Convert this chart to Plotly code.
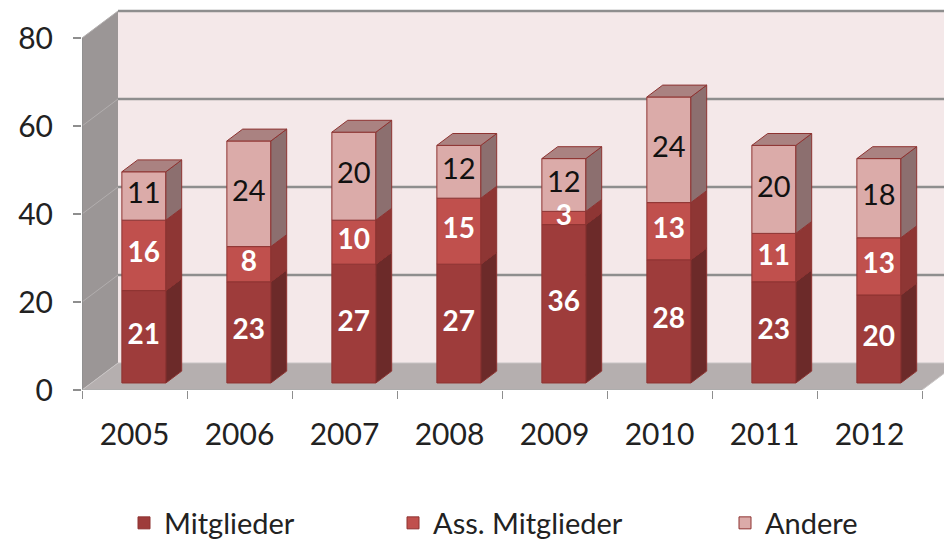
import plotly.graph_objects as go

# ---------------- data ----------------
years = ["2005", "2006", "2007", "2008", "2009", "2010", "2011", "2012"]
mitglieder = [21, 23, 27, 27, 36, 28, 23, 20]
ass_mitglieder = [16, 8, 10, 15, 3, 13, 11, 13]
andere = [11, 24, 20, 12, 12, 24, 20, 18]
y_ticks = [0, 20, 40, 60, 80]
series_names = ["Mitglieder", "Ass. Mitglieder", "Andere"]

# ---------------- geometry / style ----------------
PAGE_OFF = 8                    # default body margin of the html page
W, H = 952 - PAGE_OFF, 542 - PAGE_OFF
PLOT_L = 82 - PAGE_OFF          # px, left edge of front plane
PLOT_BOTTOM = 390 - PAGE_OFF    # px, y=0 of front plane
PX_PER_UNIT = 4.4               # px per value unit
SLOT_PX = 105                   # px per category
DEPTH_PX_X, DEPTH_PX_Y = 36, 27

x_max = (W - PLOT_L) / SLOT_PX
y_max = PLOT_BOTTOM / PX_PER_UNIT
DX = DEPTH_PX_X / SLOT_PX
DY = DEPTH_PX_Y / PX_PER_UNIT
F0, FD = 0.26, 0.44            # bar depth start / depth fraction
BAR_W = 44 / SLOT_PX
SDX, SDY = FD * DX, FD * DY
Y0 = F0 * DY
n = len(years)
top_val = max(y_ticks)

FONT = "Lato, 'Open Sans', sans-serif"
front_cols = ["#9E3C3B", "#C0504D", "#DBABA9"]
side_cols = ["#6C2A29", "#8E3634", "#8C6F6F"]
top_col = "#AA8281"
edge_col = "#8E3331"
grid_col = "#8E8E8E"
legend_px = [124 - PAGE_OFF, 393 - PAGE_OFF, 725 - PAGE_OFF]  # legend left edges
legend_cy = 523 - PAGE_OFF
legend_names = ["legend", "legend2", "legend3"]

centers = [i + 0.5 + F0 * DX for i in range(n)]
series = [mitglieder, ass_mitglieder, andere]

fig = go.Figure()

# ---------- walls / floor ----------
shapes = []
shapes.append(dict(type="rect", xref="x", yref="y", x0=DX, x1=x_max + 1,
                   y0=DY, y1=top_val + DY, fillcolor="#F4E8E9",
                   line=dict(width=0), layer="below"))
shapes.append(dict(type="path", xref="x", yref="y",
                   path=f"M0,0 L{DX},{DY} L{DX},{top_val + DY} L0,{top_val} Z",
                   fillcolor="#9B9696", line=dict(width=0), layer="below"))
shapes.append(dict(type="path", xref="x", yref="y",
                   path=f"M0,0 L{n},0 L{n + DX},{DY} L{DX},{DY} Z",
                   fillcolor="#B5AFAF", line=dict(color="#C8C4C4", width=1),
                   layer="below"))
for v in y_ticks[1:]:
    shapes.append(dict(type="line", xref="x", yref="y", x0=DX, x1=x_max + 1,
                       y0=v + DY, y1=v + DY, line=dict(color=grid_col, width=2.5),
                       layer="below"))
    shapes.append(dict(type="line", xref="x", yref="y", x0=0, x1=DX,
                       y0=v, y1=v + DY, line=dict(color="#B2AEAE", width=1),
                       layer="below"))
# front axis lines
shapes.append(dict(type="line", xref="x", yref="y", x0=0, x1=0, y0=0, y1=top_val,
                   line=dict(color=grid_col, width=1.5)))
shapes.append(dict(type="line", xref="x", yref="y", x0=0, x1=n, y0=0, y1=0,
                   line=dict(color="#A8A8A8", width=1.5)))

# ---------- front faces (bars) ----------
cum = [0] * n
bases_all = []
for s, vals in enumerate(series):
    bases = [Y0 + c for c in cum]
    bases_all.append(bases)
    fig.add_trace(go.Bar(
        x=centers, y=vals, base=bases, width=BAR_W, name=series_names[s],
        legend=legend_names[s],
        marker=dict(color=front_cols[s], line=dict(color=edge_col, width=1)),
        hoverinfo="skip"))
    cum = [c + v for c, v in zip(cum, vals)]

# ---------- side and top faces ----------
for s, vals in enumerate(series):
    xs, ys = [], []
    for i in range(n):
        b = bases_all[s][i]
        t = b + vals[i]
        xr = centers[i] + BAR_W / 2
        xs += [xr, xr + SDX, xr + SDX, xr, xr, None]
        ys += [b, b + SDY, t + SDY, t, b, None]
    fig.add_trace(go.Scatter(x=xs, y=ys, mode="lines", fill="toself",
                             fillcolor=side_cols[s],
                             line=dict(color=edge_col, width=1),
                             showlegend=False, hoverinfo="skip"))
xs, ys = [], []
for i in range(n):
    t = Y0 + cum[i]
    xl = centers[i] - BAR_W / 2
    xr = centers[i] + BAR_W / 2
    xs += [xl, xr, xr + SDX, xl + SDX, xl, None]
    ys += [t, t, t + SDY, t + SDY, t, None]
fig.add_trace(go.Scatter(x=xs, y=ys, mode="lines", fill="toself",
                         fillcolor=top_col, line=dict(color=edge_col, width=1),
                         showlegend=False, hoverinfo="skip"))

# ---------- data labels (on top of everything) ----------
text_fonts = [dict(family=FONT, size=28, color="white", weight=700),
              dict(family=FONT, size=28, color="white", weight=700),
              dict(family=FONT, size=29, color="#111111")]
for s, vals in enumerate(series):
    fig.add_trace(go.Scatter(
        x=centers, y=[b + v / 2 for b, v in zip(bases_all[s], vals)],
        mode="text", text=[str(v) for v in vals], textposition="middle center",
        textfont=text_fonts[s], showlegend=False, hoverinfo="skip",
        cliponaxis=False))

legend_common = dict(orientation="h", xanchor="left",
                     y=-(legend_cy - PLOT_BOTTOM) / PLOT_BOTTOM, yanchor="middle",
                     font=dict(family=FONT, size=29, color="#222222"),
                     bgcolor="rgba(0,0,0,0)")
legends = {}
for k, name in enumerate(legend_names):
    legends[name] = dict(legend_common, x=(legend_px[k] - PLOT_L) / (W - PLOT_L))

fig.update_layout(
    width=W, height=H,
    margin=dict(l=PLOT_L, r=0, t=0, b=H - PLOT_BOTTOM, autoexpand=False),
    paper_bgcolor="white", plot_bgcolor="white",
    barmode="overlay", shapes=shapes,
    font=dict(family=FONT, color="#222222"),
    xaxis=dict(range=[0, x_max], showgrid=False, zeroline=False, showline=False,
               tickmode="array", tickvals=[i + 0.5 for i in range(n)],
               ticktext=years, ticks="", ticklabelstandoff=24,
               tickfont=dict(family=FONT, size=30, color="#222222"),
               minor=dict(ticks="outside", ticklen=8, tickcolor=grid_col,
                          tickmode="array", tickvals=list(range(n + 1)),
                          showgrid=False),
               fixedrange=True),
    yaxis=dict(range=[0, y_max], showgrid=False, zeroline=False, showline=False,
               tickmode="array", tickvals=y_ticks, ticks="outside", ticklen=8,
               tickcolor=grid_col, tickwidth=1.5, ticklabelstandoff=14,
               tickfont=dict(family=FONT, size=30, color="#222222"),
               fixedrange=True),
    showlegend=True,
    **legends,
)

fig.write_html("out.html")
